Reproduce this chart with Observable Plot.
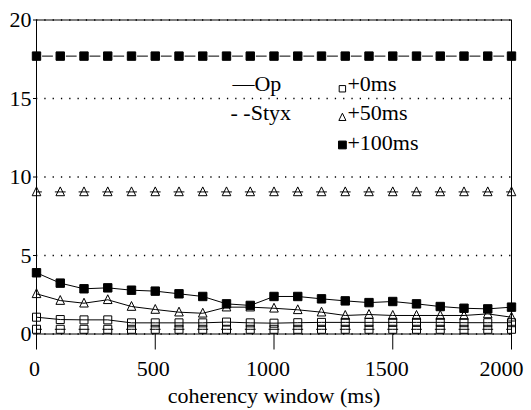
<!DOCTYPE html>
<html><head><meta charset="utf-8">
<script src="https://cdn.jsdelivr.net/npm/d3@7"></script>
<script src="https://cdn.jsdelivr.net/npm/@observablehq/plot@0.6"></script>
<style>
html,body{margin:0;padding:0;background:#fff;}
#chart svg text, #chart svg tspan { font-family: "Liberation Serif", "DejaVu Serif", "Times New Roman", Times, serif !important; }
</style>
</head><body>
<div id="chart"></div>
<script>
// coherency window (ms)
const windows = [0,100,200,300,400,500,600,700,800,900,1000,1100,1200,1300,1400,1500,1600,1700,1800,1900,2000];
// Op (solid lines)
const op0   = [1.07,0.92,0.90,0.90,0.71,0.71,0.71,0.71,0.76,0.71,0.69,0.72,0.74,0.74,0.74,0.74,0.74,0.74,0.72,0.72,0.72];
const op50  = [2.56,2.13,1.96,2.18,1.75,1.56,1.39,1.32,1.71,1.71,1.64,1.54,1.39,1.18,1.24,1.18,1.18,1.18,1.18,1.28,1.07];
const op100 = [3.90,3.24,2.88,2.94,2.79,2.73,2.56,2.39,1.92,1.82,2.39,2.39,2.24,2.11,2.00,2.07,1.92,1.75,1.64,1.60,1.71];
// Styx (dashed lines)
const styx0   = [0.3,0.3,0.3,0.3,0.3,0.3,0.3,0.3,0.3,0.3,0.3,0.3,0.3,0.3,0.3,0.3,0.3,0.3,0.3,0.3,0.3];
const styx50  = [9.05,9.05,9.05,9.05,9.05,9.05,9.05,9.05,9.05,9.05,9.05,9.05,9.05,9.05,9.05,9.05,9.05,9.05,9.05,9.05,9.05];
const styx100 = [17.7,17.7,17.7,17.7,17.7,17.7,17.7,17.7,17.7,17.7,17.7,17.7,17.7,17.7,17.7,17.7,17.7,17.7,17.7,17.7,17.7];

const xTicks = [0,500,1000,1500,2000];
const yTicks = [0,5,10,15,20];
const xLabel = "coherency window (ms)";
const systems = ["Op","Styx"];
const delays = ["+0ms","+50ms","+100ms"];

const seriesDefs = [
  {system:"Op", delay:"+0ms", values:op0},
  {system:"Op", delay:"+50ms", values:op50},
  {system:"Op", delay:"+100ms", values:op100},
  {system:"Styx", delay:"+0ms", values:styx0},
  {system:"Styx", delay:"+50ms", values:styx50},
  {system:"Styx", delay:"+100ms", values:styx100}
];
const rows = seriesDefs.flatMap(s => s.values.map((v,i) => ({system:s.system, delay:s.delay, x:windows[i], y:v})));

const squareSym = {draw(ctx,size){const k=Math.sqrt(size/(Math.PI*16)); ctx.rect(-4*k,-4*k,8*k,8*k);}};
const triSym = {draw(ctx,size){const k=Math.sqrt(size/(Math.PI*16)); ctx.moveTo(0,-5*k); ctx.lineTo(4.3*k,3.8*k); ctx.lineTo(-4.3*k,3.8*k); ctx.closePath();}};
const symStyle = {
  "+0ms":  {symbol:squareSym, fill:"none", r:4},
  "+50ms": {symbol:triSym, fill:"none", r:4},
  "+100ms":{symbol:squareSym, fill:"black", r:4.2}
};
const dashOffset = {"+0ms":5, "+50ms":5, "+100ms":17.75};

// x tick labels sit slightly left of their ticks in the reference
const xAxisGroups = [{ticks:[xTicks[0], xTicks[1]], dx:-2}, {ticks:[xTicks[2], xTicks[3]], dx:-6}, {ticks:[xTicks[4]], dx:-10}];

const marks = [
  Plot.ruleY(yTicks, {stroke:"black", strokeWidth:1.4, strokeDasharray:"1.3,7"}),
  Plot.frame({stroke:"black", strokeWidth:1}),
  Plot.axisX({ticks:xTicks, tickSize:16, label:null, tickFormat:()=>""}),
  ...xAxisGroups.map(g => Plot.axisX({ticks:g.ticks, tickSize:0, tickPadding:26, dx:g.dx, fontSize:22, label:null, tickFormat:d=>String(d)})),
  Plot.axisY({ticks:yTicks, tickSize:3, tickPadding:2, fontSize:22, label:null, tickFormat:d=>String(d)}),
  Plot.text([xLabel], {frameAnchor:"bottom", dy:68.5, lineAnchor:"bottom", fontSize:22, text:d=>d})
];
for (const s of seriesDefs) {
  const data = rows.filter(r => r.system===s.system && r.delay===s.delay);
  marks.push(Plot.line(data, {x:"x", y:"y", stroke:"black", strokeWidth:1,
    strokeDasharray: s.system==="Styx" ? "10,13.75" : null,
    strokeDashoffset: s.system==="Styx" ? dashOffset[s.delay] : null}));
}
for (const s of seriesDefs) {
  const data = rows.filter(r => r.system===s.system && r.delay===s.delay);
  const st = symStyle[s.delay];
  marks.push(Plot.dot(data, {x:"x", y:"y", symbol:st.symbol, r:st.r, fill:st.fill, stroke:"black", strokeWidth:1}));
}
// legend (placed in data space inside the frame)
const legendSys = [{t:"\u2014"+systems[0], x:825, y:15.5},{t:"- -"+systems[1], x:817, y:13.6}];
marks.push(Plot.text(legendSys, {x:"x", y:"y", text:"t", textAnchor:"start", lineAnchor:"bottom", fontSize:22}));
const legendDel = [{t:delays[0], y:15.5, sy:15.62},{t:delays[1], y:13.6, sy:13.8},{t:delays[2], y:11.7, sy:12.04}];
marks.push(Plot.text(legendDel, {x:1309, y:"y", text:"t", textAnchor:"start", lineAnchor:"bottom", fontSize:22}));
marks.push(Plot.dot([legendDel[0]], {x:1288, y:"sy", symbol:squareSym, r:3.2, fill:"none", stroke:"black", strokeWidth:1}));
marks.push(Plot.dot([legendDel[1]], {x:1288, y:"sy", symbol:triSym, r:3.3, fill:"none", stroke:"black", strokeWidth:1}));
marks.push(Plot.dot([legendDel[2]], {x:1288, y:"sy", symbol:squareSym, r:3.9, fill:"black", stroke:"black", strokeWidth:1}));

const chart = Plot.plot({
  width:531, height:410,
  marginLeft:36, marginRight:20, marginTop:19.5, marginBottom:76.5,
  x:{domain:[0,2000]},
  y:{domain:[0,20]},
  style:{fontSize:"22px", background:"white", color:"black", overflow:"visible"},
  marks
});
document.getElementById("chart").appendChild(chart);
</script>
</body></html>
